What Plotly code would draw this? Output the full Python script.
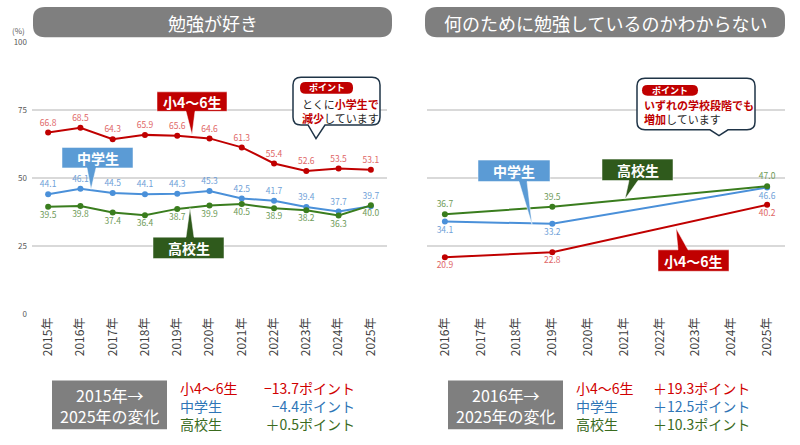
import plotly.graph_objects as go

W, H = 800, 445
FONT = "Noto Sans CJK JP"

# ---------------- data ----------------
years_left = ["2015年", "2016年", "2017年", "2018年", "2019年", "2020年",
              "2021年", "2022年", "2023年", "2024年", "2025年"]
elem_left = [66.8, 68.5, 64.3, 65.9, 65.6, 64.6, 61.3, 55.4, 52.6, 53.5, 53.1]
jh_left = [44.1, 46.1, 44.5, 44.1, 44.3, 45.3, 42.5, 41.7, 39.4, 37.7, 39.7]
hs_left = [39.5, 39.8, 37.4, 36.4, 38.7, 39.9, 40.5, 38.9, 38.2, 36.3, 40.0]

years_right_axis = ["2016年", "2017年", "2018年", "2019年", "2020年",
                    "2021年", "2022年", "2023年", "2024年", "2025年"]
years_right = ["2016年", "2019年", "2025年"]
elem_right = [20.9, 22.8, 40.2]
jh_right = [34.1, 33.2, 46.6]
hs_right = [36.7, 39.5, 47.0]

y_ticks = [0, 25, 50, 75, 100]

series_names = ["小4～6生", "中学生", "高校生"]
left_changes = ["−13.7ポイント", "−4.4ポイント", "＋0.5ポイント"]
right_changes = ["＋19.3ポイント", "＋12.5ポイント", "＋10.3ポイント"]

# ---------------- styles ----------------
RED, BLUE, GREEN = "#c00000", "#4a90d9", "#3a7d1e"
RED_L, BLUE_L, GREEN_L = "#e06666", "#6f9fd8", "#6e9a57"
BOX_RED, BOX_BLUE, BOX_GREEN = "#c00000", "#5b9bd5", "#2f5a1c"
TXT_RED, TXT_BLUE, TXT_GREEN = "#d00000", "#2e75b6", "#3a6b1e"


def X(px):
    return px / W


def Y(py):
    return 1 - py / H


def P(x, y):
    return f"{X(x):.5f},{Y(y):.5f}"


def rrect_path(x0, y0, x1, y1, r, tail=None):
    # tail = (b0, b1, tx, ty) on bottom edge
    s = f"M {P(x0 + r, y0)} L {P(x1 - r, y0)} Q {P(x1, y0)} {P(x1, y0 + r)} "
    s += f"L {P(x1, y1 - r)} Q {P(x1, y1)} {P(x1 - r, y1)} "
    if tail:
        b0, b1, tx, ty = tail
        s += f"L {P(b1, y1)} L {P(tx, ty)} L {P(b0, y1)} "
    s += f"L {P(x0 + r, y1)} Q {P(x0, y1)} {P(x0, y1 - r)} "
    s += f"L {P(x0, y0 + r)} Q {P(x0, y0)} {P(x0 + r, y0)} Z"
    return s


def box_path(x0, y0, x1, y1, b0, b1, tx, ty, side):
    if side == "bottom":
        return (f"M {P(x0, y0)} L {P(x1, y0)} L {P(x1, y1)} L {P(b1, y1)} "
                f"L {P(tx, ty)} L {P(b0, y1)} L {P(x0, y1)} Z")
    return (f"M {P(x0, y0)} L {P(b0, y0)} L {P(tx, ty)} L {P(b1, y0)} "
            f"L {P(x1, y0)} L {P(x1, y1)} L {P(x0, y1)} Z")


fig = go.Figure()


def add_series(x, y, color, lcolor, pos, xa, ya):
    fig.add_trace(go.Scatter(
        x=x, y=y, mode="lines+markers+text",
        line=dict(color=color, width=2),
        marker=dict(color=color, size=6),
        text=[f"{v:.1f}" for v in y], textposition=pos,
        textfont=dict(family=FONT, size=8.5, color=lcolor),
        cliponaxis=False, showlegend=False, xaxis=xa, yaxis=ya,
        hoverinfo="skip"))


add_series(years_left, elem_left, RED, RED_L, "top center", "x", "y")
add_series(years_left, jh_left, BLUE, BLUE_L, "top center", "x", "y")
add_series(years_left, hs_left, GREEN, GREEN_L, "bottom center", "x", "y")
add_series(years_right, elem_right, RED, RED_L, "bottom center", "x2", "y2")
add_series(years_right, jh_right, BLUE, BLUE_L, "bottom center", "x2", "y2")
add_series(years_right, hs_right, GREEN, GREEN_L, "top center", "x2", "y2")

ydom = [Y(316), Y(37)]
xaxis_common = dict(type="category", tickangle=-90, showgrid=False,
                    showline=False, zeroline=False, ticks="",
                    tickfont=dict(family=FONT, size=12, color="#404040"))
yaxis_common = dict(domain=ydom, range=[0, 100], tickvals=y_ticks,
                    showgrid=True, gridcolor="#d9d9d9", gridwidth=1.5,
                    zeroline=False, showline=False, ticks="",
                    ticklabelstandoff=4,
                    tickfont=dict(family=FONT, size=8, color="#595959"))

fig.update_layout(
    width=W, height=H, margin=dict(l=0, r=0, t=0, b=0),
    paper_bgcolor="white", plot_bgcolor="white",
    font=dict(family=FONT),
    xaxis=dict(domain=[X(32), X(387)], categoryorder="array",
               categoryarray=years_left, range=[-0.5, 10.5],
               anchor="y", **xaxis_common),
    yaxis=dict(anchor="x", showticklabels=True, **yaxis_common),
    xaxis2=dict(domain=[X(427), X(785)], categoryorder="array",
                categoryarray=years_right_axis, range=[-0.5, 9.5],
                anchor="y2", **xaxis_common),
    yaxis2=dict(anchor="x2", showticklabels=False, **yaxis_common),
)

shapes = []
ann = []

# title banners
for x0, x1, title in [(33, 392, "勉強が好き"), (425, 785, "何のために勉強しているのかわからない")]:
    shapes.append(dict(type="path", xref="paper", yref="paper",
                       path=rrect_path(x0, 1, x1, 32, 12),
                       fillcolor="#7f7f7f", line=dict(width=0), layer="above"))
    ann.append(dict(x=X((x0 + x1) / 2), y=Y(17), xref="paper", yref="paper",
                    text=title, showarrow=False, xanchor="center", yanchor="middle",
                    font=dict(family=FONT, size=18, color="white")))

ann.append(dict(x=X(18), y=Y(25), xref="paper", yref="paper", text="(%)",
                showarrow=False, xanchor="center", yanchor="middle",
                font=dict(family=FONT, size=8, color="#595959")))

# series label callouts
callouts = [
    # x0,y0,x1,y1,b0,b1,tx,ty,side,color,text
    (157, 88, 227, 108, 186, 195, 192, 132, "bottom", BOX_RED, "小4～6生"),
    (62, 145, 133, 166, 87, 96, 91, 188, "bottom", BOX_BLUE, "中学生"),
    (153, 237, 224, 259, 186, 194, 190, 207, "top", BOX_GREEN, "高校生"),
    (478, 158, 550, 180, 519, 527, 532, 224, "bottom", BOX_BLUE, "中学生"),
    (602, 157, 673, 179, 629, 638, 625, 198, "bottom", BOX_GREEN, "高校生"),
    (658, 250, 729, 272, 678, 688, 676, 228, "top", BOX_RED, "小4～6生"),
]
for x0, y0, x1, y1, b0, b1, tx, ty, side, col, txt in callouts:
    shapes.append(dict(type="path", xref="paper", yref="paper",
                       path=box_path(x0, y0, x1, y1, b0, b1, tx, ty, side),
                       fillcolor=col, line=dict(color="#ffffff", width=0.5),
                       layer="above"))
    ann.append(dict(x=X((x0 + x1) / 2), y=Y((y0 + y1) / 2 + 0.5), xref="paper",
                    yref="paper", text=f"<b>{txt}</b>", showarrow=False,
                    xanchor="center", yanchor="middle",
                    font=dict(family=FONT, size=14, color="white")))

# "ポイント" speech bubbles
bubbles = [
    (293, 73, 380, 122, (308, 325, 316, 136), (300, 78, 353, 90), 300, 108,
     "とくに<b><span style='color:#c00000'>小学生で</span></b><br>"
     "<b><span style='color:#c00000'>減少</span></b>しています"),
    (637, 74, 755, 127, (710, 728, 719, 133), (642, 81, 698, 92), 642, 109,
     "<b><span style='color:#c00000'>いずれの学校段階でも</span></b><br>"
     "<b><span style='color:#c00000'>増加</span></b>しています"),
]
for x0, y0, x1, y1, tail, pill, tx, ty, txt in bubbles:
    shapes.append(dict(type="path", xref="paper", yref="paper",
                       path=rrect_path(x0, y0, x1, y1, 8, tail),
                       fillcolor="white", line=dict(color="#1f3447", width=1.5),
                       layer="above"))
    px0, py0, px1, py1 = pill
    shapes.append(dict(type="path", xref="paper", yref="paper",
                       path=rrect_path(px0, py0, px1, py1, 5.5),
                       fillcolor=BOX_RED, line=dict(width=0), layer="above"))
    ann.append(dict(x=X((px0 + px1) / 2), y=Y((py0 + py1) / 2), xref="paper",
                    yref="paper", text="<b>ポイント</b>", showarrow=False,
                    xanchor="center", yanchor="middle",
                    font=dict(family=FONT, size=9, color="white")))
    ann.append(dict(x=X(tx), y=Y(ty), xref="paper", yref="paper",
                    text=txt, showarrow=False, xanchor="left", yanchor="middle",
                    align="left",
                    font=dict(family=FONT, size=11, color="#262626")))

# bottom change boxes
colors_txt = [TXT_RED, TXT_BLUE, TXT_GREEN]
for bx0, bx1, lbl, lx, vx, changes in [
        (52, 167, "2015年→<br>2025年の変化", 178, 357, left_changes),
        (448, 563, "2016年→<br>2025年の変化", 574, 752, right_changes)]:
    shapes.append(dict(type="rect", xref="paper", yref="paper",
                       x0=X(bx0), x1=X(bx1), y0=Y(434), y1=Y(384),
                       fillcolor="#7f7f7f", line=dict(width=0)))
    ann.append(dict(x=X((bx0 + bx1) / 2), y=Y(410), xref="paper", yref="paper",
                    text=lbl, showarrow=False, xanchor="center", yanchor="middle",
                    align="center",
                    font=dict(family=FONT, size=16, color="white")))
    names_txt = "<br>".join(f"<span style='color:{c}'>{n}</span>"
                            for n, c in zip(series_names, colors_txt))
    vals_txt = "<br>".join(f"<span style='color:{c}'>{v}</span>"
                           for v, c in zip(changes, colors_txt))
    ann.append(dict(x=X(lx), y=Y(410), xref="paper", yref="paper",
                    text=names_txt, showarrow=False, xanchor="left",
                    yanchor="middle", align="left",
                    font=dict(family=FONT, size=14, color=TXT_RED)))
    ann.append(dict(x=X(vx), y=Y(410), xref="paper", yref="paper",
                    text=vals_txt, showarrow=False, xanchor="right",
                    yanchor="middle", align="right",
                    font=dict(family=FONT, size=14, color=TXT_RED)))

fig.update_layout(shapes=shapes, annotations=ann)
fig.write_html("out.html")
